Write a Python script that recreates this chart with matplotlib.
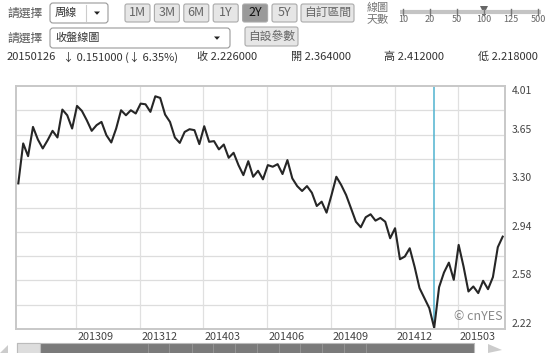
import matplotlib
matplotlib.use('Agg')
import matplotlib.pyplot as plt
from matplotlib.patches import Rectangle, FancyBboxPatch, Polygon
import numpy as np
import pandas as pd

plt.rcParams['font.family'] = ['Noto Sans CJK TC', 'DejaVu Sans']

W, H = 554, 353

# weekly closes
dates = pd.date_range('2013-06-10', periods=100, freq='W-MON')
close = [3.293, 3.588, 3.494, 3.710, 3.617, 3.551, 3.612, 3.681, 3.632, 3.838,
         3.796, 3.698, 3.865, 3.828, 3.759, 3.681, 3.723, 3.747, 3.649, 3.595,
         3.698, 3.833, 3.796, 3.833, 3.809, 3.882, 3.877, 3.821, 3.936, 3.924,
         3.801, 3.747, 3.632, 3.592, 3.673, 3.693, 3.686, 3.583, 3.715, 3.600,
         3.605, 3.544, 3.580, 3.482, 3.519, 3.428, 3.354, 3.457, 3.342, 3.386,
         3.323, 3.428, 3.416, 3.435, 3.362, 3.465, 3.330, 3.273, 3.237, 3.273,
         3.224, 3.126, 3.158, 3.077, 3.205, 3.342, 3.281, 3.207, 3.109, 3.010,
         2.969, 3.043, 3.065, 3.018, 3.038, 3.010, 2.888, 2.962, 2.733, 2.753,
         2.814, 2.677, 2.520, 2.446, 2.372, 2.226, 2.527, 2.635, 2.708, 2.581,
         2.839, 2.679, 2.495, 2.532, 2.483, 2.574, 2.512, 2.601, 2.822, 2.900]

grid_months = ['2013-09-01', '2013-12-01', '2014-03-01', '2014-06-01',
               '2014-09-01', '2014-12-01', '2015-03-01']
month_labels = ['201309', '201312', '201403', '201406', '201409', '201412', '201503']
y_lo, y_hi = 2.218, 4.012
y_tick_labels = ['2.22', '2.58', '2.94', '3.30', '3.65', '4.01']
hover_date = '2015-01-26'

periods = ['1M', '3M', '6M', '1Y', '2Y', '5Y']
active_period = '2Y'
slider_labels = ['10', '20', '50', '100', '125', '500']
slider_value = '100'
quote_date = '20150126'
quote_change = '↓ 0.151000 (↓ 6.35%)'
quote_items = ['收 2.226000', '開 2.364000', '高 2.412000', '低 2.218000']

fig = plt.figure(figsize=(W / 100, H / 100), dpi=100)
fig.patch.set_facecolor('white')

# overlay in pixel coords for the page widgets
bg = fig.add_axes([0, 0, 1, 1])
bg.set_xlim(0, W)
bg.set_ylim(H, 0)
bg.axis('off')

def button(x0, y0, x1, y1, txt, fc='#e6e6e6', tc='#666666', size=9):
    bg.add_patch(FancyBboxPatch((x0, y0), x1 - x0, y1 - y0,
                                boxstyle='round,pad=0,rounding_size=2',
                                fc=fc, ec='#aaaaaa', lw=0.8))
    bg.text((x0 + x1) / 2, (y0 + y1) / 2, txt, ha='center', va='center',
            fontsize=size, color=tc)

def down_arrow(x, y):
    bg.add_patch(Polygon([[x - 3, y - 1.5], [x + 3, y - 1.5], [x, y + 1.8]],
                         closed=True, fc='#222222', ec='none'))

# row 1
bg.text(7, 13, '請選擇', va='center', fontsize=8.5, color='#555555')
bg.add_patch(FancyBboxPatch((50, 3), 58, 20, boxstyle='round,pad=0,rounding_size=3',
                            fc='white', ec='#999999', lw=0.8))
bg.plot([86, 86], [5, 21], color='#cccccc', lw=0.8)
bg.text(55, 12.5, '周線', va='center', fontsize=8, color='#333333')
down_arrow(97, 13)
for i, p in enumerate(periods):
    x0 = 125 + i * 29.4
    if p == active_period:
        button(x0, 4, x0 + 25, 22, p, fc='#9a9a9a', tc='#111111')
    else:
        button(x0, 4, x0 + 25, 22, p)
button(301, 4, 354, 22, '自訂區間', size=8.5)
bg.text(367, 8, '線圖', va='center', fontsize=8, color='#777777')
bg.text(367, 19, '天數', va='center', fontsize=8, color='#777777')
sx = np.linspace(403, 538, len(slider_labels))
bg.plot([400, 541], [12, 12], color='#c4c4c4', lw=3, solid_capstyle='butt')
for x, lab in zip(sx, slider_labels):
    bg.plot([x, x], [9, 15], color='#777777', lw=1)
    bg.text(x, 19.5, lab, ha='center', va='center', fontsize=6.5, color='#666666')
    if lab == slider_value:
        bg.add_patch(Polygon([[x - 4, 6], [x + 4, 6], [x + 2, 10], [x + 2, 15],
                              [x - 2, 15], [x - 2, 10]], closed=True,
                             fc='#666666', ec='none'))

# row 2
bg.text(7, 38, '請選擇', va='center', fontsize=8.5, color='#555555')
bg.add_patch(FancyBboxPatch((50, 28), 180, 20, boxstyle='round,pad=0,rounding_size=3',
                            fc='white', ec='#999999', lw=0.8))
bg.text(55, 37.5, '收盤線圖', va='center', fontsize=8, color='#333333')
down_arrow(217, 38)
button(245, 27, 298, 46, '自設參數', size=8.5)

# row 3
bg.text(7, 57, quote_date, va='center', fontsize=8, color='#333333')
bg.text(63, 57, quote_change, va='center', fontsize=8, color='#333333')
for x, item in zip([197, 291, 384, 478], quote_items):
    bg.text(x, 57, item, va='center', fontsize=8, color='#333333')

# scrollbar
bg.add_patch(Rectangle((17, 343), 457, 12, fc='#7a7a7a', ec='#bbbbbb', lw=0.8))
bg.add_patch(Rectangle((17, 343), 23, 12, fc='#dddddd', ec='#bbbbbb', lw=0.8))
for x in [148, 169, 192, 213, 235, 257, 279, 300, 322, 344, 366]:
    bg.plot([x, x], [344, 353], color='#999999', lw=0.6)
bg.add_patch(Polygon([[8, 345], [8, 353], [0, 353]], closed=True, fc='#cccccc', ec='none'))
bg.add_patch(Polygon([[488, 344], [502, 350], [488, 353]], closed=True, fc='#cccccc', ec='none'))

# chart
ax = fig.add_axes([16 / W, 1 - 329 / H, (505 - 16) / W, (329 - 86) / H])
pad = pd.Timedelta(days=3.3)
ax.set_xlim(dates[0] - pad, dates[-1] + pad)
ax.set_ylim(y_lo, y_hi)
levels = np.linspace(y_lo, y_hi, 11)
for v in levels[1:-1]:
    ax.axhline(v, color='#dddddd', lw=0.9, zorder=0)
for m in grid_months:
    ax.axvline(pd.Timestamp(m), color='#e0e0e0', lw=0.9, zorder=0)
ax.axvline(pd.Timestamp(hover_date), color='#4fb3cf', lw=1.1, zorder=1)
ax.plot(dates, close, color='#262626', lw=1.5, zorder=2)

ax.set_xticks([])
ax.set_yticks([])
for s in ax.spines.values():
    s.set_color('#c8c8c8')
    s.set_linewidth(1.4)

xt = ax.get_xaxis_transform()
for m, lab in zip(grid_months, month_labels):
    ax.text(pd.Timestamp(m) + pd.Timedelta(days=2), -0.033, lab, transform=xt,
            ha='left', va='center', fontsize=7.8, color='#444444')

yt = ax.get_yaxis_transform()
for v, lab in zip(levels[::2], y_tick_labels):
    ax.text(1.014, v, lab, transform=yt, ha='left',
            va='top' if v == levels[-1] else 'bottom', fontsize=7.5, color='#444444')

ax.text(0.995, 0.025, '© cnYES', transform=ax.transAxes, ha='right', va='bottom',
        fontsize=9, color='#888888')

fig.savefig('out.png', dpi=100)
